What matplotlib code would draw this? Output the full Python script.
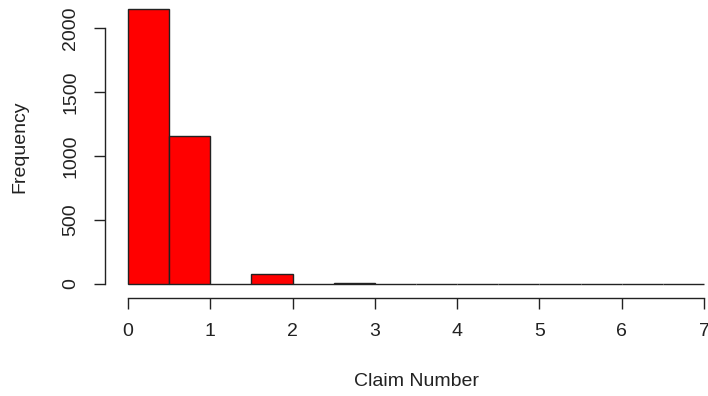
import numpy as np
import matplotlib
matplotlib.use("Agg")
import matplotlib.pyplot as plt

# Data
bin_edges = [0.0, 0.5, 1.0, 1.5, 2.0, 2.5, 3.0, 3.5, 4.0, 4.5, 5.0, 5.5, 6.0, 6.5, 7.0]
counts = [2150, 1155, 0, 78, 0, 10, 0, 0, 0, 0, 0, 0, 0, 0]
x_ticks = [0, 1, 2, 3, 4, 5, 6, 7]
y_ticks = [0, 500, 1000, 1500, 2000]
x_label = "Claim Number"
y_label = "Frequency"

plt.rcParams['font.family'] = ['Liberation Sans', 'DejaVu Sans']

W, H = 708, 396
fig = plt.figure(figsize=(W / 100, H / 100), dpi=100)
left, right, bottom, top = 105, 727, 295, -2
ax = fig.add_axes([left / W, 1 - bottom / H, (right - left) / W, (bottom - top) / H])

lefts = np.array(bin_edges[:-1])
widths = np.diff(bin_edges)
ax.bar(lefts, counts, width=widths, align='edge', color='#FF0000',
       edgecolor='#222222', linewidth=1.0)

ax.set_xlim(-0.28, 7.28)
ax.set_ylim(-86, 2236)

for s in ['top', 'right']:
    ax.spines[s].set_visible(False)
ax.spines['left'].set_bounds(0, 2000)
ax.spines['bottom'].set_bounds(0, 7)
ax.spines['bottom'].set_position(('outward', 2))
for s in ['left', 'bottom']:
    ax.spines[s].set_linewidth(1.0)
    ax.spines[s].set_color('#222222')

ax.set_xticks(x_ticks)
ax.set_xticklabels([str(v) for v in x_ticks])
ax.set_yticks(y_ticks)
ax.set_yticklabels([str(v) for v in y_ticks], rotation=90, va='center')
ax.tick_params(axis='both', length=8, width=1.0, color='#222222',
               labelsize=14, labelcolor='#222222', pad=10.5)

ax.set_xlabel(x_label, fontsize=14, color='#222222', va='center')
ax.xaxis.set_label_coords(416 / W, 1 - 382 / H, transform=fig.transFigure)
ax.set_ylabel(y_label, fontsize=14, color='#222222', va='center')
ax.yaxis.set_label_coords(20 / W, 1 - 147 / H, transform=fig.transFigure)

fig.savefig("out.png", dpi=100, facecolor='white')
